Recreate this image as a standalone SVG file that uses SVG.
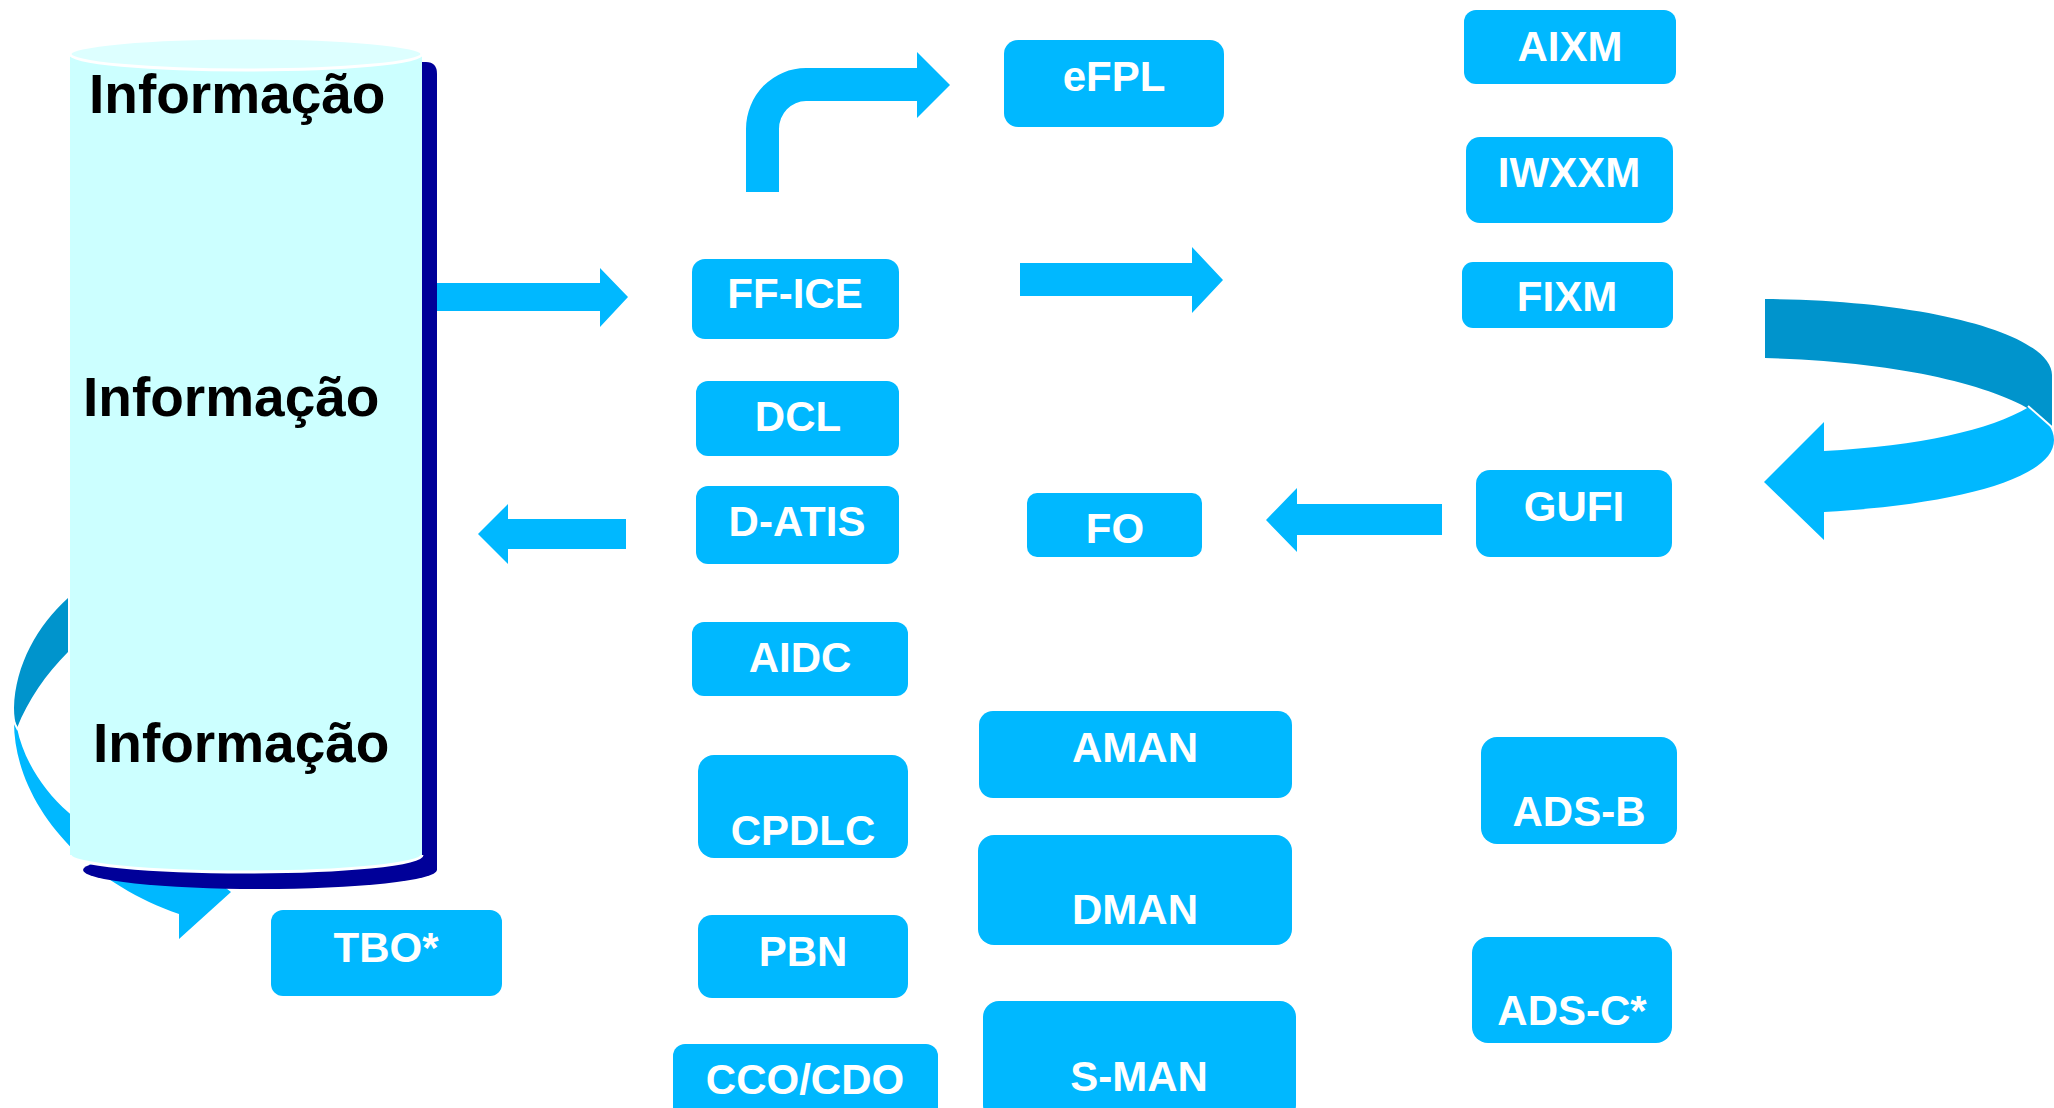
<svg xmlns="http://www.w3.org/2000/svg" width="2054" height="1108" viewBox="0 0 2054 1108">
  <style>
    .box { fill: #00B8FF; }
    .lbl { font-family: "Liberation Sans", Arial, sans-serif; font-weight: bold; font-size: 42px; fill: #FFFFFF; text-anchor: middle; }
    .info { font-family: "Liberation Sans", Arial, sans-serif; font-weight: bold; font-size: 55px; fill: #000000; }
    .arrow { fill: #00B8FF; }
    .ribbon-back { fill: #0094CC; }
    .sep { stroke: #FFFFFF; stroke-width: 2; fill: none; }
  </style>
  <rect x="0" y="0" width="2054" height="1108" fill="#FFFFFF"/>

  <g id="connectors">
    <g id="loop-left">
      <path class="ribbon-back" d="M 68,598 C 38,625 15,665 14,708 C 14,716 15,722 17,728 C 28,700 46,674 68,652 Z"/>
      <path class="arrow" d="M 14,722 C 14,800 80,880 179,914 L 179,939 L 231,892 L 205,872 C 140,862 95,838 68,812 C 45,792 24,762 17,728 Z"/>
      <path class="sep" d="M 13,720 L 18,730"/>
    </g>
    <g id="loop-right">
      <path class="ribbon-back" d="M 1765,299 C 1930,300 2052,335 2052,375 L 2052,428 C 2030,396 1925,362 1765,358 Z"/>
      <path class="arrow" d="M 2029,407 C 2045,418 2054,428 2054,440 C 2054,480 1950,505 1824,512 L 1824,540 L 1764,482 L 1824,422 L 1824,451 C 1920,446 1990,430 2029,407 Z"/>
      <path class="sep" d="M 2028,406 L 2053,428"/>
    </g>
    <path id="arr-cyl-ffice" class="arrow" d="M 436,283 L 600,283 L 600,268 L 628,297 L 600,327 L 600,311 L 436,311 Z"/>
    <path id="arr-datis-cyl" class="arrow" d="M 626,519 L 508,519 L 508,504 L 478,534 L 508,564 L 508,549 L 626,549 Z"/>
    <path id="arr-ffice-efpl" class="arrow" d="M 746,192 L 746,129 A 60 61 0 0 1 806,68 L 917,68 L 917,52 L 950,85 L 917,118 L 917,101 L 806,101 A 27 28 0 0 0 779,129 L 779,192 Z"/>
    <path id="arr-mid-right" class="arrow" d="M 1020,263 L 1192,263 L 1192,247 L 1223,280 L 1192,313 L 1192,296 L 1020,296 Z"/>
    <path id="arr-gufi-fo" class="arrow" d="M 1442,504 L 1297,504 L 1297,488 L 1266,520 L 1297,552 L 1297,535 L 1442,535 Z"/>
  </g>

  <g id="node-informacao">
    <path fill="#000099" d="M 408,62 L 426,62 Q 437,62 437,74 L 437,870 L 408,870 Z"/>
    <ellipse cx="260" cy="870" rx="177" ry="19" fill="#000099"/>
    <path fill="#CCFFFF" d="M 70,54 L 70,855 A 176 17 0 0 0 422,855 L 422,54 Z"/>
    <path d="M 70,855 A 176 17 0 0 0 422,855" fill="none" stroke="#FFFFFF" stroke-width="3"/>
    <ellipse cx="246" cy="54" rx="176" ry="16" fill="#DDFFFF" stroke="#FFFFFF" stroke-width="3"/>
    <text class="info" x="89" y="113">Informação</text>
    <text class="info" x="83" y="416">Informação</text>
    <text class="info" x="93" y="762">Informação</text>
  </g>

  <g id="node-efpl"><rect class="box" x="1004" y="40" width="220" height="87" rx="14"/><text class="lbl" x="1114" y="91">eFPL</text></g>
  <g id="node-ffice"><rect class="box" x="692" y="259" width="207" height="80" rx="13"/><text class="lbl" x="795" y="308">FF-ICE</text></g>
  <g id="node-dcl"><rect class="box" x="696" y="381" width="203" height="75" rx="12"/><text class="lbl" x="798" y="431">DCL</text></g>
  <g id="node-datis"><rect class="box" x="696" y="486" width="203" height="78" rx="12"/><text class="lbl" x="797" y="536">D-ATIS</text></g>
  <g id="node-fo"><rect class="box" x="1027" y="493" width="175" height="64" rx="10"/><text class="lbl" x="1115" y="543">FO</text></g>
  <g id="node-aidc"><rect class="box" x="692" y="622" width="216" height="74" rx="12"/><text class="lbl" x="800" y="672">AIDC</text></g>
  <g id="node-aman"><rect class="box" x="979" y="711" width="313" height="87" rx="14"/><text class="lbl" x="1135" y="762">AMAN</text></g>
  <g id="node-cpdlc"><rect class="box" x="698" y="755" width="210" height="103" rx="16"/><text class="lbl" x="803" y="845">CPDLC</text></g>
  <g id="node-dman"><rect class="box" x="978" y="835" width="314" height="110" rx="16"/><text class="lbl" x="1135" y="924">DMAN</text></g>
  <g id="node-pbn"><rect class="box" x="698" y="915" width="210" height="83" rx="14"/><text class="lbl" x="803" y="966">PBN</text></g>
  <g id="node-ccocdo"><rect class="box" x="673" y="1044" width="265" height="80" rx="12"/><text class="lbl" x="805" y="1094">CCO/CDO</text></g>
  <g id="node-sman"><rect class="box" x="983" y="1001" width="313" height="120" rx="16"/><text class="lbl" x="1139" y="1091">S-MAN</text></g>
  <g id="node-tbo"><rect class="box" x="271" y="910" width="231" height="86" rx="12"/><text class="lbl" x="386" y="962">TBO*</text></g>
  <g id="node-aixm"><rect class="box" x="1464" y="10" width="212" height="74" rx="12"/><text class="lbl" x="1570" y="61">AIXM</text></g>
  <g id="node-iwxxm"><rect class="box" x="1466" y="137" width="207" height="86" rx="14"/><text class="lbl" x="1569" y="187">IWXXM</text></g>
  <g id="node-fixm"><rect class="box" x="1462" y="262" width="211" height="66" rx="11"/><text class="lbl" x="1567" y="311">FIXM</text></g>
  <g id="node-gufi"><rect class="box" x="1476" y="470" width="196" height="87" rx="14"/><text class="lbl" x="1574" y="521">GUFI</text></g>
  <g id="node-adsb"><rect class="box" x="1481" y="737" width="196" height="107" rx="16"/><text class="lbl" x="1579" y="826">ADS-B</text></g>
  <g id="node-adsc"><rect class="box" x="1472" y="937" width="200" height="106" rx="16"/><text class="lbl" x="1572" y="1025">ADS-C*</text></g>
</svg>
